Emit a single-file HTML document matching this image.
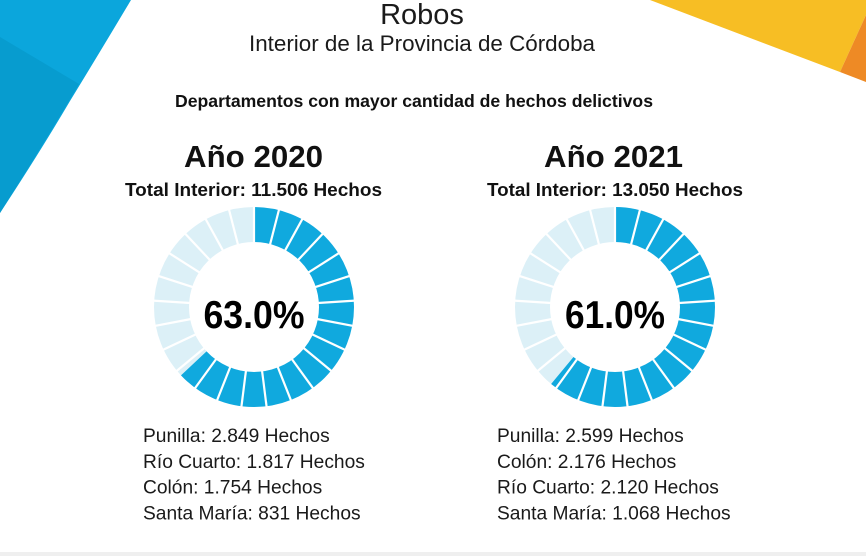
<!DOCTYPE html>
<html>
<head>
<meta charset="utf-8">
<style>
  html, body { margin: 0; padding: 0; background: #ffffff; }
  body { width: 866px; height: 556px; overflow: hidden; }
  svg { display: block; }
  .t { font-family: "Liberation Sans", Arial, sans-serif; }
</style>
</head>
<body>
<svg width="866" height="556" viewBox="0 0 866 556" xmlns="http://www.w3.org/2000/svg">
  <rect x="0" y="0" width="866" height="556" fill="#ffffff"/>
  <!-- bottom gray strip -->
  <rect x="0" y="552" width="866" height="4" fill="#efefef"/>

  <!-- top-left blue shape -->
  <path d="M0,0 L131,0 Q100,52 70,101 Q40,152 0,213 Z" fill="#0ba6dc"/>
  <path d="M0,37 L79,84 Q40,150 0,213 Z" fill="#079ccf"/>

  <!-- top-right yellow / orange -->
  <polygon points="650,0 866,0 866,15 840,72" fill="#f7be24"/>
  <polygon points="866,15 840,72 866,82" fill="#ee8a25"/>

  <!-- titles -->
  <text class="t" x="422" y="24" font-size="29" text-anchor="middle" fill="#1a1a1a">Robos</text>
  <text class="t" x="422" y="51" font-size="22.4" text-anchor="middle" fill="#1a1a1a" textLength="346" lengthAdjust="spacingAndGlyphs">Interior de la Provincia de Córdoba</text>
  <text class="t" x="414" y="107" font-size="17.6" font-weight="bold" text-anchor="middle" fill="#111" textLength="478" lengthAdjust="spacingAndGlyphs">Departamentos con mayor cantidad de hechos delictivos</text>

  <!-- year headers -->
  <text class="t" x="253.5" y="167" font-size="31" font-weight="bold" text-anchor="middle" fill="#111" textLength="139" lengthAdjust="spacingAndGlyphs">Año 2020</text>
  <text class="t" x="253.5" y="196" font-size="18.8" font-weight="bold" text-anchor="middle" fill="#111" textLength="257" lengthAdjust="spacingAndGlyphs">Total Interior: 11.506 Hechos</text>

  <text class="t" x="613.5" y="167" font-size="31" font-weight="bold" text-anchor="middle" fill="#111" textLength="139" lengthAdjust="spacingAndGlyphs">Año 2021</text>
  <text class="t" x="615" y="196" font-size="18.8" font-weight="bold" text-anchor="middle" fill="#111" textLength="256" lengthAdjust="spacingAndGlyphs">Total Interior: 13.050 Hechos</text>

  <defs>
    <g id="ticks" stroke="#ffffff" stroke-width="2.2">
      <line x1="0" y1="-62" x2="0" y2="-103" transform="rotate(0)"/>
      <line x1="0" y1="-62" x2="0" y2="-103" transform="rotate(14.4)"/>
      <line x1="0" y1="-62" x2="0" y2="-103" transform="rotate(28.8)"/>
      <line x1="0" y1="-62" x2="0" y2="-103" transform="rotate(43.2)"/>
      <line x1="0" y1="-62" x2="0" y2="-103" transform="rotate(57.6)"/>
      <line x1="0" y1="-62" x2="0" y2="-103" transform="rotate(72)"/>
      <line x1="0" y1="-62" x2="0" y2="-103" transform="rotate(86.4)"/>
      <line x1="0" y1="-62" x2="0" y2="-103" transform="rotate(100.8)"/>
      <line x1="0" y1="-62" x2="0" y2="-103" transform="rotate(115.2)"/>
      <line x1="0" y1="-62" x2="0" y2="-103" transform="rotate(129.6)"/>
      <line x1="0" y1="-62" x2="0" y2="-103" transform="rotate(144)"/>
      <line x1="0" y1="-62" x2="0" y2="-103" transform="rotate(158.4)"/>
      <line x1="0" y1="-62" x2="0" y2="-103" transform="rotate(172.8)"/>
      <line x1="0" y1="-62" x2="0" y2="-103" transform="rotate(187.2)"/>
      <line x1="0" y1="-62" x2="0" y2="-103" transform="rotate(201.6)"/>
      <line x1="0" y1="-62" x2="0" y2="-103" transform="rotate(216)"/>
      <line x1="0" y1="-62" x2="0" y2="-103" transform="rotate(230.4)"/>
      <line x1="0" y1="-62" x2="0" y2="-103" transform="rotate(244.8)"/>
      <line x1="0" y1="-62" x2="0" y2="-103" transform="rotate(259.2)"/>
      <line x1="0" y1="-62" x2="0" y2="-103" transform="rotate(273.6)"/>
      <line x1="0" y1="-62" x2="0" y2="-103" transform="rotate(288)"/>
      <line x1="0" y1="-62" x2="0" y2="-103" transform="rotate(302.4)"/>
      <line x1="0" y1="-62" x2="0" y2="-103" transform="rotate(316.8)"/>
      <line x1="0" y1="-62" x2="0" y2="-103" transform="rotate(331.2)"/>
      <line x1="0" y1="-62" x2="0" y2="-103" transform="rotate(345.6)"/>
    </g>
  </defs>

  <!-- Donut 2020 (63%) -->
  <g transform="translate(254,307)">
    <circle cx="0" cy="0" r="82.5" fill="none" stroke="#dcf0f7" stroke-width="35"/>
    <circle cx="0" cy="0" r="82.5" fill="none" stroke="#10a9de" stroke-width="35"
            stroke-dasharray="326.57 600" transform="rotate(-90)"/>
    <use href="#ticks"/>
  </g>
  <text class="t" x="254" y="328" font-size="39" font-weight="bold" text-anchor="middle" fill="#000" textLength="101" lengthAdjust="spacingAndGlyphs">63.0%</text>

  <!-- Donut 2021 (61%) -->
  <g transform="translate(615,307)">
    <circle cx="0" cy="0" r="82.5" fill="none" stroke="#dcf0f7" stroke-width="35"/>
    <circle cx="0" cy="0" r="82.5" fill="none" stroke="#10a9de" stroke-width="35"
            stroke-dasharray="316.20 600" transform="rotate(-90)"/>
    <use href="#ticks"/>
  </g>
  <text class="t" x="615" y="328" font-size="39" font-weight="bold" text-anchor="middle" fill="#000" textLength="100" lengthAdjust="spacingAndGlyphs">61.0%</text>

  <!-- legends -->
  <g class="t" font-size="19.2" fill="#1a1a1a">
    <text x="143" y="442">Punilla: 2.849 Hechos</text>
    <text x="143" y="468">Río Cuarto: 1.817 Hechos</text>
    <text x="143" y="493.5">Colón: 1.754 Hechos</text>
    <text x="143" y="519.5">Santa María: 831 Hechos</text>

    <text x="497" y="442">Punilla: 2.599 Hechos</text>
    <text x="497" y="468">Colón: 2.176 Hechos</text>
    <text x="497" y="493.5">Río Cuarto: 2.120 Hechos</text>
    <text x="497" y="519.5">Santa María: 1.068 Hechos</text>
  </g>
</svg>
</body>
</html>
